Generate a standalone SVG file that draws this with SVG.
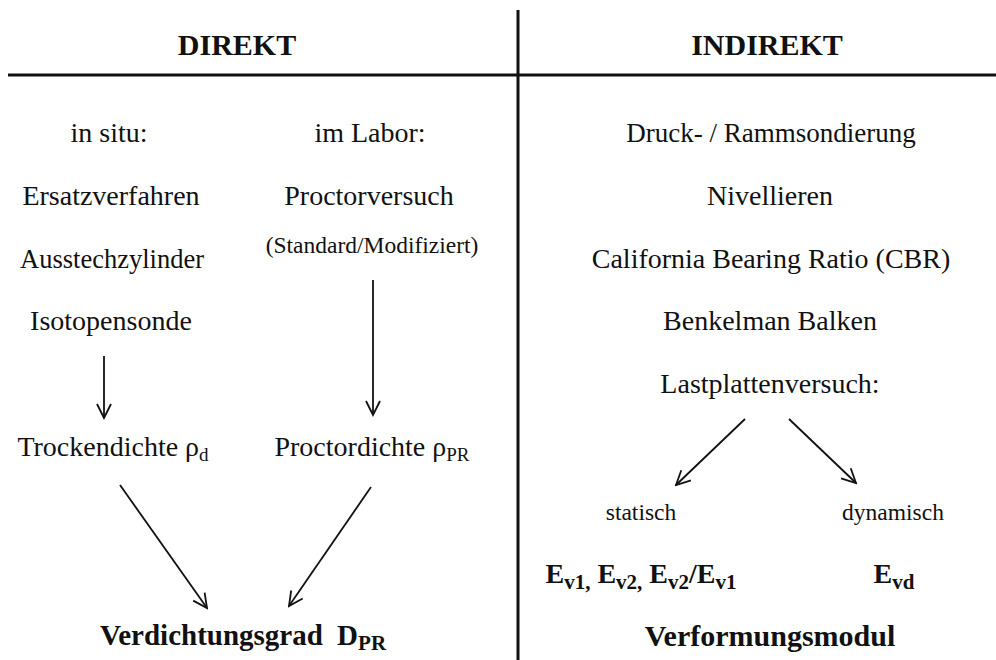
<svg xmlns="http://www.w3.org/2000/svg" width="996" height="660" viewBox="0 0 996 660">
<defs>
<style>
text{fill:#111;text-anchor:middle}
.h{font-size:30px;font-weight:bold}
.t{font-size:28px}
.s{font-size:23.5px}
.b{font-size:29px;font-weight:bold}
.sub{font-size:19px}
.bsub{font-size:21px}
.c{stroke:#111;stroke-width:1.8;fill:none}
</style>
<marker id="ah" viewBox="0 0 20 20" refX="18" refY="10" markerWidth="20" markerHeight="20" markerUnits="userSpaceOnUse" orient="auto">
<polyline points="4,3 18,10 4,17" fill="none" stroke="#111" stroke-width="1.8"/>
</marker>
</defs>
<rect width="996" height="660" fill="#fff"/>
<g id="frame">
<line x1="518" y1="10" x2="518" y2="660" stroke="#111" stroke-width="3"/>
<line x1="8" y1="75" x2="996" y2="75" stroke="#111" stroke-width="3"/>
</g>
<g id="hdr-direkt"><text font-family="Liberation Serif" class="h" x="237" y="55">DIREKT</text></g>
<g id="hdr-indirekt"><text font-family="Liberation Serif" class="h" x="767" y="55">INDIREKT</text></g>
<g id="insitu"><text font-family="Liberation Serif" class="t" x="109" y="142">in situ:</text></g>
<g id="imlabor"><text font-family="Liberation Serif" class="t" x="370" y="142">im Labor:</text></g>
<g id="ersatz"><text font-family="Liberation Serif" class="t" x="111" y="205">Ersatzverfahren</text></g>
<g id="aussteck"><text font-family="Liberation Serif" class="t" x="112" y="268" style="font-size:26.5px">Ausstechzylinder</text></g>
<g id="isotop"><text font-family="Liberation Serif" class="t" x="111" y="330">Isotopensonde</text></g>
<g id="proctor"><text font-family="Liberation Serif" class="t" x="369" y="205">Proctorversuch</text><text font-family="Liberation Serif" class="s" x="372" y="253">(Standard/Modifiziert)</text></g>
<g id="trocken"><text font-family="Liberation Serif" class="t" x="113" y="456">Trockendichte ρ<tspan class="sub" dy="5">d</tspan></text></g>
<g id="proctordichte"><text font-family="Liberation Serif" class="t" x="372" y="456">Proctordichte ρ<tspan class="sub" dy="5">PR</tspan></text></g>
<g id="verdichtung"><text font-family="Liberation Serif" class="b" x="243" y="645">Verdichtungsgrad <tspan dx="7">D</tspan><tspan class="bsub" dy="5">PR</tspan></text></g>
<g id="druck"><text font-family="Liberation Serif" class="t" x="771" y="142" style="font-size:27px">Druck- / Rammsondierung</text></g>
<g id="nivell"><text font-family="Liberation Serif" class="t" x="770" y="205">Nivellieren</text></g>
<g id="cbr"><text font-family="Liberation Serif" class="t" x="771" y="268">California Bearing Ratio (CBR)</text></g>
<g id="benkel"><text font-family="Liberation Serif" class="t" x="770" y="330">Benkelman Balken</text></g>
<g id="lastpl"><text font-family="Liberation Serif" class="t" x="770" y="393">Lastplattenversuch:</text></g>
<g id="statisch"><text font-family="Liberation Serif" class="s" x="641" y="520">statisch</text></g>
<g id="dynamisch"><text font-family="Liberation Serif" class="s" x="893" y="520">dynamisch</text></g>
<g id="ev"><text font-family="Liberation Serif" class="b" x="641" y="583" style="font-size:28px">E<tspan class="bsub" dy="6">v1,</tspan><tspan dy="-6"> E</tspan><tspan class="bsub" dy="6">v2,</tspan><tspan dy="-6"> E</tspan><tspan class="bsub" dy="6">v2</tspan><tspan dy="-6">/E</tspan><tspan class="bsub" dy="6">v1</tspan></text></g>
<g id="evd"><text font-family="Liberation Serif" class="b" x="894" y="583" style="font-size:28px">E<tspan class="bsub" dy="6">vd</tspan></text></g>
<g id="verformung"><text font-family="Liberation Serif" class="b" x="770" y="646" style="font-size:30px">Verformungsmodul</text></g>
<g id="connectors">
<line class="c" x1="104" y1="356" x2="104" y2="418" marker-end="url(#ah)"/>
<line class="c" x1="373" y1="280" x2="373" y2="415" marker-end="url(#ah)"/>
<line class="c" x1="120" y1="485" x2="207" y2="608" marker-end="url(#ah)"/>
<line class="c" x1="371" y1="487" x2="289" y2="606" marker-end="url(#ah)"/>
<line class="c" x1="745" y1="419" x2="676" y2="485" marker-end="url(#ah)"/>
<line class="c" x1="789" y1="419" x2="856" y2="483" marker-end="url(#ah)"/>
</g>
</svg>
